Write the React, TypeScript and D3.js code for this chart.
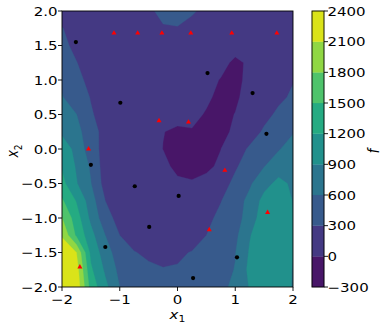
import React from 'react';
import * as d3 from 'd3';

// grid of the surrogate f(x1, x2), rows listed from x2 = 2 (top) down to x2 = -2
const x1Grid = [-2, -1.75, -1.5, -1.25, -1, -0.75, -0.5, -0.25, 0, 0.25, 0.5, 0.75, 1, 1.25, 1.5, 1.75, 2];
const x2Grid = [2, 1.75, 1.5, 1.25, 1, 0.75, 0.5, 0.25, 0, -0.25, -0.5, -0.75, -1, -1.25, -1.5, -1.75, -2];
const fGrid = [
  [240, 210, 180, 165, 165, 200, 280, 330, 340, 315, 270, 220, 190, 170, 160, 160, 170],
  [305, 250, 205, 175, 155, 165, 220, 290, 295, 260, 210, 160, 130, 120, 120, 135, 160],
  [340, 260, 200, 160, 130, 120, 130, 150, 150, 120, 80, 50, 40, 70, 100, 130, 180],
  [400, 305, 230, 175, 135, 115, 105, 100, 90, 60, 40, 30, -20, 15, 80, 140, 220],
  [540, 340, 260, 190, 140, 110, 90, 80, 70, 50, 30, -5, -40, 40, 120, 200, 290],
  [620, 410, 290, 200, 140, 105, 80, 65, 55, 40, 20, -30, -30, 70, 160, 260, 330],
  [790, 605, 320, 220, 150, 105, 75, 50, 40, 30, -10, -50, 5, 110, 240, 340, 440],
  [870, 700, 420, 200, 140, 100, 60, 3, -20, -8, -70, -60, 40, 200, 330, 460, 580],
  [1000, 850, 400, 220, 150, 100, 60, -2, -60, -90, -80, -2, 200, 330, 450, 580, 720],
  [1170, 870, 560, 150, 130, 100, 80, 40, -40, -70, -40, 35, 270, 420, 590, 760, 860],
  [1290, 920, 610, 180, 130, 110, 90, 60, 30, 20, 60, 200, 360, 560, 800, 980, 850],
  [1540, 1180, 740, 300, 150, 120, 100, 90, 80, 100, 170, 290, 470, 680, 1000, 1080, 890],
  [1810, 1340, 830, 420, 190, 140, 110, 100, 110, 150, 230, 370, 480, 730, 1080, 1120, 905],
  [2070, 1450, 1000, 600, 300, 200, 160, 140, 150, 200, 300, 420, 530, 880, 1100, 1130, 920],
  [2300, 2100, 1120, 750, 420, 310, 260, 240, 270, 310, 390, 490, 590, 930, 1120, 1140, 910],
  [2350, 2250, 1250, 850, 520, 400, 340, 310, 315, 360, 450, 520, 610, 980, 1150, 1130, 880],
  [2380, 2330, 1380, 980, 600, 450, 380, 350, 360, 400, 470, 540, 660, 920, 1120, 1100, 870],
];

const levels = [-300, 0, 300, 600, 900, 1200, 1500, 1800, 2100, 2400];

// initial samples (black) and added points (red)
const initX1 = [-1.76, -0.99, 0.52, 1.3, 1.54, -1.5, -0.74, 0.02, -0.49, -1.25, 1.03, 0.27];
const initX2 = [1.55, 0.67, 1.1, 0.81, 0.22, -0.23, -0.54, -0.68, -1.13, -1.42, -1.57, -1.87];
const newX1 = [-1.1, -0.69, -0.27, 0.23, 0.94, 1.72, -0.32, 0.19, 0.82, -1.54, -1.69, 1.56, 0.55];
const newX2 = [1.68, 1.68, 1.68, 1.68, 1.68, 1.68, 0.41, 0.39, -0.31, 0.0, -1.71, -0.92, -1.17];

const xTicks = [-2, -1, 0, 1, 2];
const yTicks = [-2, -1.5, -1, -0.5, 0, 0.5, 1, 1.5, 2];

// the reference figure is a little wider than tall, text looks stretched
const SX = 1.2;
const FS = 12.5;

function T(props: any) {
  const { x, y, rotate, children, ...rest } = props;
  const tr = `translate(${x},${y}) scale(${SX},1)` + (rotate ? ` rotate(${rotate})` : '');
  return <text transform={tr} fontSize={FS} {...rest}>{children}</text>;
}

export default function App() {
  const W = 391, H = 329;

  const x = d3.scaleLinear().domain([-2, 2]).range([62, 293]);
  const y = d3.scaleLinear().domain([-2, 2]).range([287, 11]);
  const nx = x1Grid.length, ny = x2Grid.length;
  const gx = d3.scaleLinear().domain([0.5, nx - 0.5]).range([x(x1Grid[0]), x(x1Grid[nx - 1])]);
  const gy = d3.scaleLinear().domain([0.5, ny - 0.5]).range([y(x2Grid[0]), y(x2Grid[ny - 1])]);

  const contours = d3.contours().size([nx, ny]).thresholds(levels.slice(0, -1))(fGrid.flat());
  const proj = d3.geoTransform({
    point: function (px: number, py: number) { (this as any).stream.point(gx(px), gy(py)); }
  });
  const path = d3.geoPath(proj);
  const color = (i: number) => d3.interpolateViridis((i + 0.5) / (levels.length - 1));

  const cb = d3.scaleLinear().domain([levels[0], levels[levels.length - 1]]).range([287, 11]);
  const cbX = 312, cbW = 12;

  const tri = d3.symbol().type(d3.symbolTriangle).size(11)();
  const fmtY = d3.format('.1f');
  const fmtX = d3.format('d');

  return (
    <svg width={W} height={H} style={{ position: 'absolute', left: 0, top: 0 }} fontFamily="DejaVu Sans">
      <defs>
        <clipPath id="plotclip">
          <rect x={62} y={11} width={231} height={276} />
        </clipPath>
      </defs>
      <g clipPath="url(#plotclip)">
        {contours.map((c, i) => (
          <path key={i} d={path(c as any) || ''} fill={color(i)} stroke={color(i)} strokeWidth={0.3} />
        ))}
        {initX1.map((v, i) => (
          <circle key={'b' + i} cx={x(v)} cy={y(initX2[i])} r={2.1} fill="#000" />
        ))}
        {newX1.map((v, i) => (
          <path key={'r' + i} d={tri} transform={`translate(${x(v)},${y(newX2[i])})`} fill="#ff0000" />
        ))}
      </g>
      <rect x={62} y={11} width={231} height={276} fill="none" stroke="#000" strokeWidth={0.9} />

      {xTicks.map(t => (
        <g key={'xt' + t}>
          <line x1={x(t)} x2={x(t)} y1={287} y2={291} stroke="#000" strokeWidth={0.9} />
          <T x={x(t)} y={303.5} textAnchor="middle">{fmtX(t)}</T>
        </g>
      ))}
      {yTicks.map(t => (
        <g key={'yt' + t}>
          <line x1={58} x2={62} y1={y(t)} y2={y(t)} stroke="#000" strokeWidth={0.9} />
          <T x={57.5} y={y(t) + 4.5} textAnchor="end">{fmtY(t)}</T>
        </g>
      ))}

      <T x={177.5} y={319} textAnchor="middle">
        <tspan fontStyle="italic">x</tspan>
        <tspan fontSize={9} dy={3}>1</tspan>
      </T>
      <T x={18} y={151} rotate={-90} textAnchor="middle">
        <tspan fontStyle="italic">x</tspan>
        <tspan fontSize={9} dy={3}>2</tspan>
      </T>

      {levels.slice(0, -1).map((lv, i) => (
        <rect key={'cb' + i} x={cbX} y={cb(levels[i + 1])} width={cbW} height={cb(lv) - cb(levels[i + 1])}
          fill={color(i)} stroke={color(i)} strokeWidth={0.3} />
      ))}
      <rect x={cbX} y={11} width={cbW} height={276} fill="none" stroke="#000" strokeWidth={0.9} />
      {levels.map(lv => (
        <g key={'ct' + lv}>
          <line x1={cbX + cbW} x2={cbX + cbW + 4} y1={cb(lv)} y2={cb(lv)} stroke="#000" strokeWidth={0.9} />
          <T x={327.5} y={cb(lv) + 4.5}>{d3.format('d')(lv)}</T>
        </g>
      ))}
      <T x={379} y={151} rotate={-90} fontStyle="italic" textAnchor="middle">f</T>
    </svg>
  );
}
